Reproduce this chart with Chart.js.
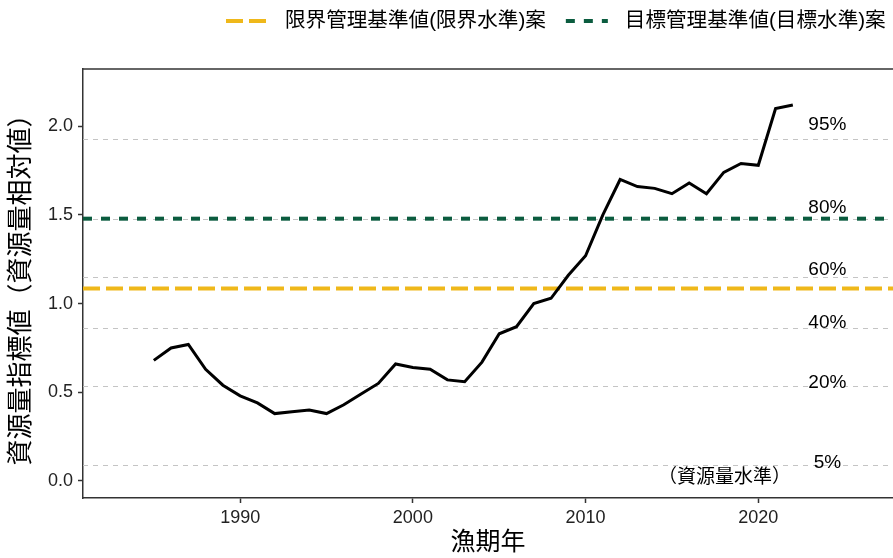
<!DOCTYPE html>
<html>
<head>
<meta charset="utf-8">
<script src="https://cdn.jsdelivr.net/npm/chart.js@4.4.1/dist/chart.umd.min.js"></script>
<style>
  body { margin: 0; background: #fff; }
</style>
</head>
<body>
<canvas id="myChart" width="893" height="558"></canvas>
<script>
// 資源量指標値の推移
let years = [1985, 1986, 1987, 1988, 1989, 1990, 1991, 1992, 1993, 1994,
             1995, 1996, 1997, 1998, 1999, 2000, 2001, 2002, 2003, 2004,
             2005, 2006, 2007, 2008, 2009, 2010, 2011, 2012, 2013, 2014,
             2015, 2016, 2017, 2018, 2019, 2020, 2021, 2022];
let stockIndex = [0.68, 0.75, 0.77, 0.63, 0.54, 0.48, 0.44, 0.38, 0.39, 0.40,
                  0.38, 0.43, 0.49, 0.55, 0.66, 0.64, 0.63, 0.57, 0.56, 0.67,
                  0.83, 0.87, 1.00, 1.03, 1.16, 1.27, 1.50, 1.70, 1.66, 1.65,
                  1.62, 1.68, 1.62, 1.74, 1.79, 1.78, 2.10, 2.12];

// 資源量水準 (percentile lines)
let levelLabels = ['95%', '80%', '60%', '40%', '20%', '5%'];
let levelValues = [1.926, 1.479, 1.148, 0.865, 0.536, 0.091];
let levelLabelY = [2.01, 1.54, 1.19, 0.89, 0.555, 0.105];
let levelLabelX = 2024.0;

// 管理基準値案
let refNames = ['限界管理基準値(限界水準)案', '目標管理基準値(目標水準)案'];
let refValues = [1.086, 1.479];
let refColors = ['#EFB81A', '#0B5C3F'];
let refDashes = [[17, 6], [9, 9]];

let yTicks = [0, 0.5, 1.0, 1.5, 2.0];
let xTicks = [1990, 2000, 2010, 2020];

const FONT = "'Liberation Sans', 'Noto Sans CJK JP', sans-serif";

let refLines = {
    id: 'refLines',
    beforeDatasetsDraw(chart) {
        let ctx = chart.ctx;
        let area = chart.chartArea;
        let y = chart.scales.y;
        let x = chart.scales.x;
        ctx.save();
        ctx.beginPath();
        ctx.rect(area.left, area.top, area.right - area.left, area.bottom - area.top);
        ctx.clip();
        // gray percentile lines
        ctx.strokeStyle = '#c4c4c4';
        ctx.lineWidth = 1;
        ctx.setLineDash([5, 5]);
        levelValues.forEach(v => {
            let py = Math.round(y.getPixelForValue(v)) + 0.5;
            ctx.beginPath();
            ctx.moveTo(area.left, py);
            ctx.lineTo(area.right, py);
            ctx.stroke();
        });
        // percentile labels
        ctx.setLineDash([]);
        ctx.fillStyle = '#000';
        ctx.font = '19px ' + FONT;
        ctx.textAlign = 'center';
        ctx.textBaseline = 'middle';
        levelLabels.forEach((t, i) => {
            ctx.fillText(t, x.getPixelForValue(levelLabelX), y.getPixelForValue(levelLabelY[i]));
        });
        ctx.font = '19px ' + FONT;
        ctx.fillText('（資源量水準）', x.getPixelForValue(2018.05), y.getPixelForValue(0.019));
        // reference lines
        ctx.lineWidth = 4;
        refValues.forEach((v, i) => {
            ctx.strokeStyle = refColors[i];
            ctx.setLineDash(refDashes[i]);
            let py = y.getPixelForValue(v);
            ctx.beginPath();
            ctx.moveTo(area.left, py);
            ctx.lineTo(area.right, py);
            ctx.stroke();
        });
        ctx.restore();
    },
    afterDraw(chart) {
        let ctx = chart.ctx;
        let area = chart.chartArea;
        ctx.save();
        // top border of panel
        ctx.strokeStyle = '#333';
        ctx.lineWidth = 1.5;
        ctx.beginPath();
        ctx.moveTo(area.left, area.top);
        ctx.lineTo(area.right, area.top);
        ctx.stroke();
        // legend
        ctx.font = '20.6px ' + FONT;
        ctx.textBaseline = 'middle';
        ctx.textAlign = 'left';
        let xPos = 226;
        let yPos = 21;
        refNames.forEach((name, i) => {
            ctx.strokeStyle = refColors[i];
            ctx.lineWidth = 4;
            ctx.setLineDash(refDashes[i]);
            ctx.beginPath();
            ctx.moveTo(xPos, yPos);
            ctx.lineTo(xPos + 42, yPos);
            ctx.stroke();
            ctx.setLineDash([]);
            ctx.fillStyle = '#000';
            ctx.fillText(name, xPos + 59, yPos);
            xPos += 59 + ctx.measureText(name).width + 20;
        });
        ctx.restore();
    }
};

let myChart = document.getElementById('myChart').getContext('2d');

let stockChart = new Chart(myChart, {
    type: 'line',
    data: {
        datasets: [{
            label: '資源量指標値',
            data: years.map((yr, i) => ({ x: yr, y: stockIndex[i] })),
            borderColor: '#000',
            borderWidth: 3,
            pointRadius: 0,
            tension: 0,
            fill: false
        }]
    },
    options: {
        responsive: false,
        animation: false,
        layout: { padding: { top: 69, right: 0, left: 0, bottom: 0 } },
        plugins: {
            legend: { display: false },
            tooltip: { enabled: false }
        },
        scales: {
            x: {
                type: 'linear',
                min: 1980.9,
                max: 2027.8,
                afterBuildTicks: scale => { scale.ticks = xTicks.map(v => ({ value: v })); },
                afterFit: scale => { scale.height = 60; },
                grid: { drawOnChartArea: false, drawTicks: true, tickLength: 5, tickColor: '#333', tickWidth: 1.5 },
                border: { display: true, color: '#333', width: 1.5 },
                ticks: {
                    color: '#222',
                    font: { family: FONT, size: 18 },
                    padding: 4,
                    maxRotation: 0,
                    callback: v => String(v)
                },
                title: {
                    display: true,
                    text: '漁期年',
                    color: '#000',
                    font: { family: FONT, size: 25 },
                    padding: { top: 0, bottom: 0 }
                }
            },
            y: {
                min: -0.096,
                max: 2.323,
                afterBuildTicks: scale => { scale.ticks = yTicks.map(v => ({ value: v })); },
                afterFit: scale => { scale.width = 83; },
                grid: { drawOnChartArea: false, drawTicks: true, tickLength: 5, tickColor: '#333', tickWidth: 1.5 },
                border: { display: true, color: '#333', width: 1.5 },
                ticks: {
                    color: '#222',
                    font: { family: FONT, size: 18 },
                    padding: 5,
                    callback: v => Number(v).toFixed(1)
                },
                title: {
                    display: true,
                    text: '資源量指標値（資源量相対値）',
                    color: '#000',
                    font: { family: FONT, size: 26 },
                    padding: { top: 6, bottom: 0 }
                }
            }
        }
    },
    plugins: [refLines]
});
</script>
</body>
</html>
